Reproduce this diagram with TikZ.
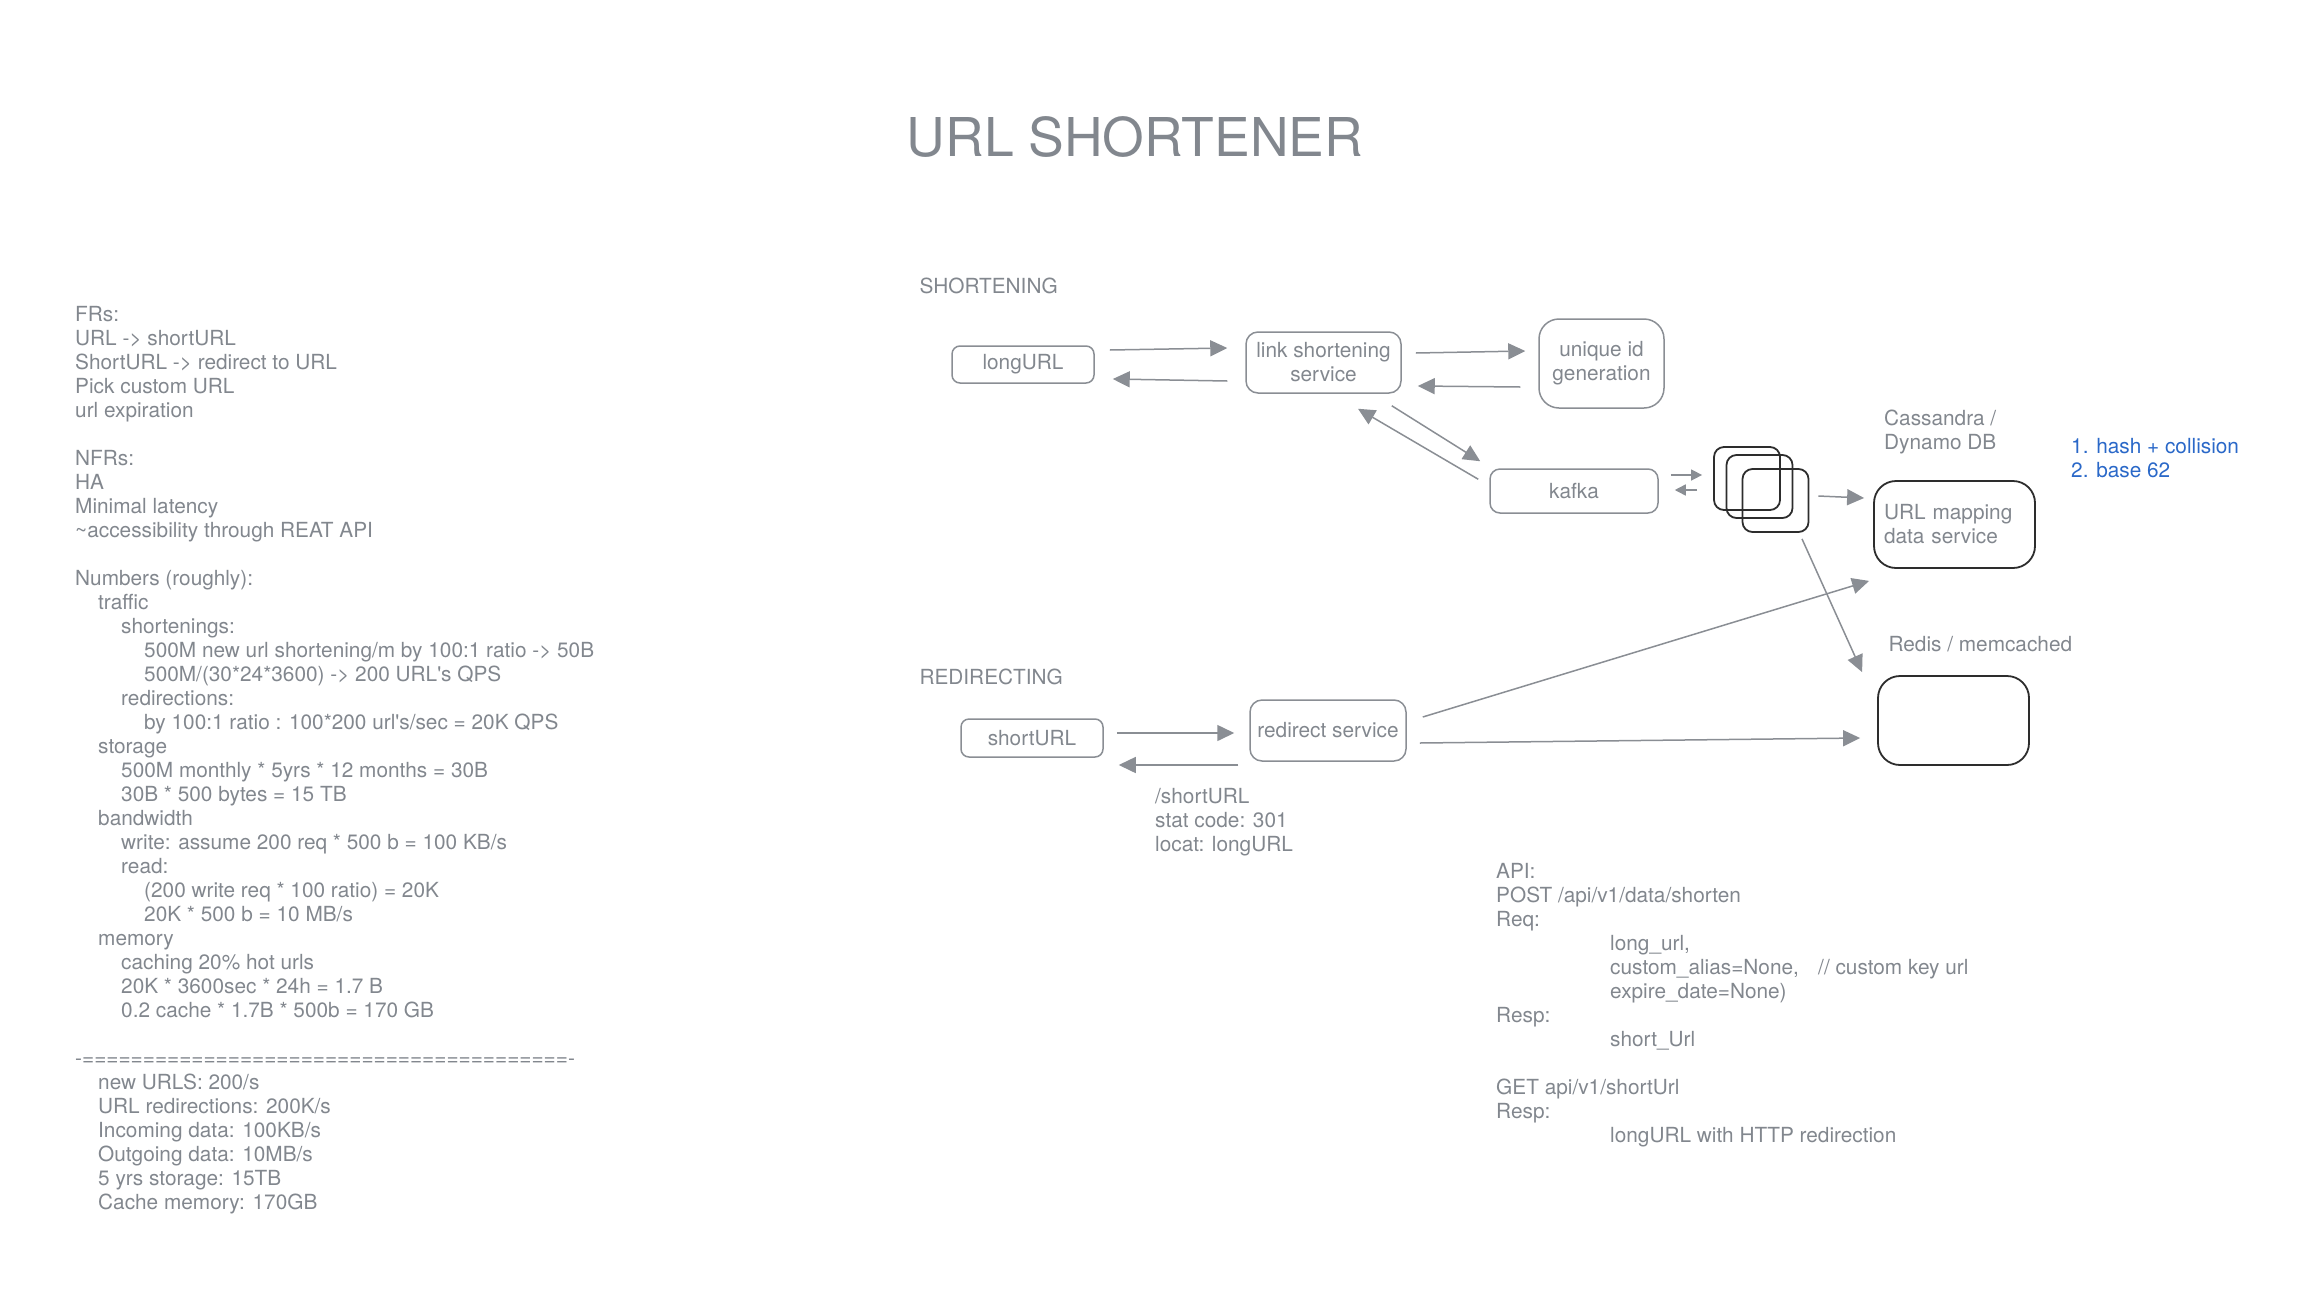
\documentclass[tikz,border=0pt]{standalone}
\usepackage{fontspec}
\setmainfont{TeX Gyre Heros}
\usetikzlibrary{arrows.meta}
\definecolor{txtgrey}{RGB}{130,135,142}
\definecolor{linegrey}{RGB}{138,142,148}
\definecolor{darkline}{RGB}{45,45,45}
\definecolor{noteblue}{RGB}{42,104,200}
\newcommand\bodyfont{\fontsize{20.8}{24}\selectfont}
\newcommand\indt{\hspace*{23pt}}
\newcommand\apind{\hspace*{114pt}}

\begin{document}
\begin{tikzpicture}[x=1pt,y=-1pt]
        \tikzstyle{every node}=[font=\bodyfont, text=txtgrey]
        \tikzstyle{lbox}=[draw=linegrey, line width=1.5pt, rounded corners=8pt, align=center]
        \tikzstyle{dbox}=[draw=darkline, line width=1.8pt, rounded corners=10pt]
        \tikzstyle{notes}=[anchor=north west, inner sep=0pt, align=left]
        \tikzstyle{arr}=[draw=linegrey, line width=1.5pt, -{Triangle[length=17pt,width=16pt]}]
        \tikzstyle{sarr}=[draw=linegrey, line width=1.5pt, -{Triangle[length=11pt,width=11pt]}]
        \useasboundingbox (0,0) rectangle (2318,1288);
        \node[anchor=base, font=\fontsize{53.5}{60}\selectfont] (title) at (1135,156) {URL SHORTENER};
        \node[notes] (reqs) at (75,304.2) {\strut FRs:\\
            URL -> shortURL\\
            ShortURL -> redirect to URL\\
            Pick custom URL\\
            url expiration\\[24pt]
            NFRs:\\
            HA\\
            Minimal latency\\
            \textasciitilde accessibility through REAT API\\[24pt]
            Numbers (roughly):\\
            \indt traffic\\
            \indt\indt shortenings:\\
            \indt\indt\indt 500M new url shortening/m by 100:1 ratio -> 50B\\
            \indt\indt\indt 500M/(30*24*3600) -> 200 URL\textquotesingle s QPS\\
            \indt\indt redirections:\\
            \indt\indt\indt by 100:1 ratio : 100*200 url\textquotesingle s/sec = 20K QPS\\
            \indt storage\\
            \indt\indt 500M monthly * 5yrs * 12 months = 30B\\
            \indt\indt 30B * 500 bytes = 15 TB\\
            \indt bandwidth\\
            \indt\indt write: assume 200 req * 500 b = 100 KB/s\\
            \indt\indt read:\\
            \indt\indt\indt (200 write req * 100 ratio) = 20K\\
            \indt\indt\indt 20K * 500 b = 10 MB/s\\
            \indt memory\\
            \indt\indt caching 20\% hot urls\\
            \indt\indt 20K * 3600sec * 24h = 1.7 B\\
            \indt\indt 0.2 cache * 1.7B * 500b = 170 GB\\[24pt]
            -========================================-\\
            \indt new URLS: 200/s\\
            \indt URL redirections: 200K/s\\
            \indt Incoming data: 100KB/s\\
            \indt Outgoing data: 10MB/s\\
            \indt 5 yrs storage: 15TB\\
            \indt Cache memory: 170GB};
        \node[anchor=base west] (shorthead) at (916,293) {SHORTENING};
        \node[anchor=base west] (redirhead) at (916,684) {REDIRECTING};
        \node[lbox, minimum width=142pt, minimum height=37pt] (longurl) at (1023,364.5) {longURL};
        \node[lbox, rounded corners=12pt, minimum width=155pt, minimum height=61pt] (linksvc) at (1323.5,362.5) {link shortening\\service};
        \node[lbox, rounded corners=20pt, minimum width=125pt, minimum height=89pt] (uid) at (1601.5,363.5) {unique id\\generation};
        \node[lbox, rounded corners=10pt, minimum width=168pt, minimum height=44pt] (kafka) at (1574,491) {kafka};
        \node[dbox, minimum width=66pt, minimum height=63pt] (q1) at (1747,478.5) {};
        \node[dbox, minimum width=66pt, minimum height=63pt] (q2) at (1759.5,486.5) {};
        \node[dbox, minimum width=66pt, minimum height=63pt] (q3) at (1775.5,500.5) {};
        \node[notes] (dblabel) at (1884,408.2) {\strut Cassandra /\\Dynamo DB};
        \node[notes, text=noteblue] (idnote) at (2071,436.2) {\strut 1. hash + collision\\2. base 62};
        \node[dbox, rounded corners=22pt, text width=141pt, inner xsep=10pt, minimum height=87pt, align=left] (urlmap) at (1954.5,524.5) {URL mapping\\data service};
        \node[anchor=base west] (cachelabel) at (1885,651) {Redis / memcached};
        \node[dbox, rounded corners=22pt, minimum width=151pt, minimum height=89pt] (cache) at (1953.5,720.5) {};
        \node[lbox, minimum width=142pt, minimum height=38pt] (shorturl) at (1032,738) {shortURL};
        \node[lbox, rounded corners=12pt, minimum width=156pt, minimum height=61pt] (redirsvc) at (1328,730.5) {redirect service};
        \node[notes] (resp) at (1155,786.2) {\strut /shortURL\\stat code: 301\\locat: longURL};
        \node[notes] (api) at (1496,861.2) {\strut API:\\
            POST /api/v1/data/shorten\\
            Req:\\
            \apind long\_url,\\
            \apind \makebox[208pt][l]{custom\_alias=None,}// custom key url\\
            \apind expire\_date=None)\\
            Resp:\\
            \apind short\_Url\\[24pt]
            GET api/v1/shortUrl\\
            Resp:\\
            \apind longURL with HTTP redirection};
        \draw[arr] ([shift={(15,-14.5)}]longurl.east) -- ([shift={(-18,-14.5)}]linksvc.west);
        \draw[arr] ([shift={(-18,18.5)}]linksvc.west) -- ([shift={(18,14.5)}]longurl.east);
        \draw[arr] ([shift={(14,-9.5)}]linksvc.east) -- ([shift={(-13,-12.5)}]uid.west);
        \draw[arr] ([shift={(-18,23.5)}]uid.west) -- ([shift={(16,23.5)}]linksvc.east);
        \draw[arr] ([shift={(-10,12)}]linksvc.south east) -- ([shift={(-9,-7)}]kafka.north west);
        \draw[arr] ([shift={(-11,11)}]kafka.north west) -- ([shift={(34.5,15)}]linksvc.south);
        \draw[sarr] ([shift={(12,-16)}]kafka.east) -- ([shift={(-11,-3.5)}]q1.west);
        \draw[sarr] ([shift={(-16,11.5)}]q1.west) -- ([shift={(16,-1)}]kafka.east);
        \draw[arr] ([shift={(9,-4.5)}]q3.east) -- ([shift={(-9,-26.5)}]urlmap.west);
        \draw[arr] ([shift={(26.5,6)}]q3.south) -- ([shift={(-15,-3)}]cache.north west);
        \draw[arr] ([shift={(13,-5)}]shorturl.east) -- ([shift={(-15,2.5)}]redirsvc.west);
        \draw[arr] ([shift={(-11,34.5)}]redirsvc.west) -- ([shift={(15,27)}]shorturl.east);
        \draw[arr] ([shift={(16,-13.5)}]redirsvc.east) -- ([shift={(-4,12)}]urlmap.south west);
        \draw[arr] ([shift={(13,12.5)}]redirsvc.east) -- ([shift={(-17,17.5)}]cache.west);
\end{tikzpicture}
\end{document}
